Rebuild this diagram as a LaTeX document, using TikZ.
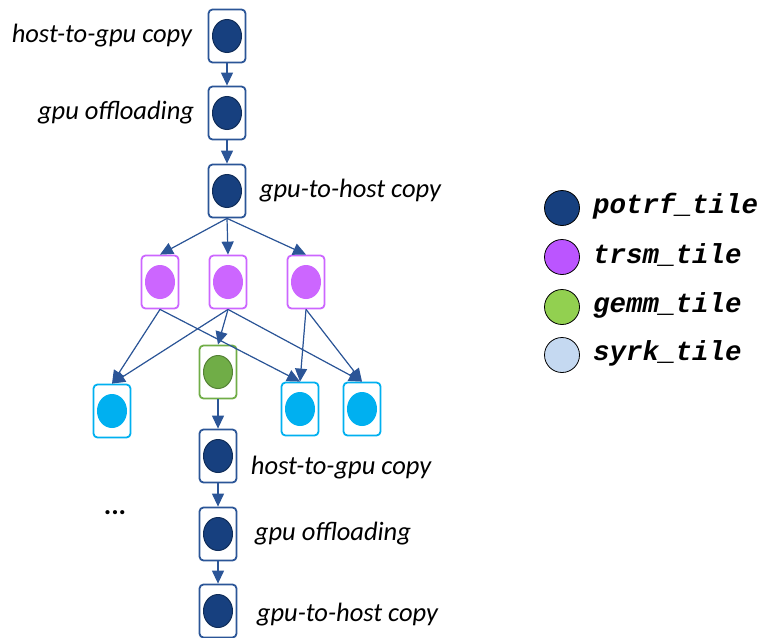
\documentclass[tikz,border=0pt]{standalone}
\usepackage{fontspec}
\setmainfont{Carlito}
\newfontfamily\codefont{Liberation Mono}
\usetikzlibrary{positioning, arrows.meta}
\definecolor{potrfblue}{HTML}{17407F}
\definecolor{edgeblue}{HTML}{2B5597}
\definecolor{trsmpurple}{HTML}{CC66FF}
\definecolor{gemmgreen}{HTML}{70AD47}
\definecolor{gemmdark}{HTML}{548235}
\definecolor{syrkcyan}{HTML}{00B0F0}
\definecolor{legpurple}{HTML}{BB55FF}
\definecolor{leggreen}{HTML}{92D050}
\definecolor{legblue}{HTML}{C5D9F1}

\begin{document}
\begin{tikzpicture}[
      x=1pt, y=-1pt,
      every node/.style={font=\fontsize{26.5}{30}\selectfont\itshape},
      tile/.style n args={3}{draw=#1, fill=white, line width=1.8pt, rounded corners=4pt,
                    minimum width=37pt, minimum height=53pt, inner sep=0pt,
                    path picture={\filldraw[fill=#2, draw=#3, line width=1pt]
                      (path picture bounding box.center) ellipse [x radius=14.5pt, y radius=16.5pt];}},
      potrf/.style={tile={edgeblue}{potrfblue}{potrfblue!70!black}},
      trsm/.style={tile={trsmpurple}{trsmpurple}{trsmpurple}},
      gemm/.style={tile={gemmgreen}{gemmgreen}{gemmdark}},
      syrk/.style={tile={syrkcyan}{syrkcyan}{syrkcyan}},
      legdot/.style={circle, draw=black, line width=0.8pt, fill=#1, minimum size=35pt, inner sep=0pt},
      legtext/.style={font=\fontsize{27.5}{30}\selectfont\codefont\bfseries\itshape, anchor=west, inner sep=0pt},
      dep/.style={-{Triangle[length=13pt, width=12pt]}, draw=edgeblue, fill=potrfblue, line width=1.2pt},
    ]
    % first potrf task and its copies
    \useasboundingbox (0,0) rectangle (767,637);
    \node[potrf] (p1) at (227,36) {};
    \node[potrf] (p2) at (227,113) {};
    \node[potrf] (p3) at (227,191) {};
    \node[left=12pt of p1] (l1) {host-to-gpu copy};
    \node[left=10pt of p2] (l2) {gpu offloading};
    \node[right=10pt of p3] (l3) {gpu-to-host copy};

    % trsm row
    \node[trsm] (t1) at (160,282) {};
    \node[trsm] (t2) at (228,282) {};
    \node[trsm] (t3) at (306,282) {};

    % gemm and syrk row
    \node[gemm] (g1) at (218,372) {};
    \node[syrk] (s1) at (112,411) {};
    \node[syrk] (s2) at (300,409) {};
    \node[syrk] (s3) at (362,409) {};

    % next potrf task
    \node[potrf] (b1) at (218,456) {};
    \node[potrf] (b2) at (218,534) {};
    \node[potrf] (b3) at (218,611) {};
    \node[right=10pt of b1, yshift=-12pt] (l4) {host-to-gpu copy};
    \node[right=14pt of b2] (l5) {gpu offloading};
    \node[right=16pt of b3, yshift=-4pt] (l6) {gpu-to-host copy};
    \node[font=\fontsize{28}{30}\selectfont\bfseries] (dots) at (115,513) {...};

    \draw[dep] (p1) -- (p2);
    \draw[dep] (p2) -- (p3);
    \draw[dep] (p3.south) -- (t1.north);
    \draw[dep] (p3.south) -- (t2.north);
    \draw[dep] (p3.south) -- (t3.north);
    \draw[dep] (t1.south) -- (s1.north);
    \draw[dep] (t1.south) -- (s2.north);
    \draw[dep] (t2.south) -- (s1.north);
    \draw[dep] (t2.south) -- (g1.north);
    \draw[dep] (t2.south) -- (s3.north);
    \draw[dep] (t3.south) -- (s2.north);
    \draw[dep] (t3.south) -- (s3.north);
    \draw[dep] (g1) -- (b1);
    \draw[dep] (b1) -- (b2);
    \draw[dep] (b2) -- (b3);

    % legend
    \node[legdot=potrfblue] (k1) at (562,208) {};
    \node[legdot=legpurple] (k2) at (562,257) {};
    \node[legdot=leggreen] (k3) at (562,307) {};
    \node[legdot=legblue] (k4) at (562,355) {};
    \node[legtext, right=13pt of k1, yshift=2pt] {potrf\_tile};
    \node[legtext, right=13pt of k2, yshift=2pt] {trsm\_tile};
    \node[legtext, right=13pt of k3, yshift=2pt] {gemm\_tile};
    \node[legtext, right=13pt of k4, yshift=2pt] {syrk\_tile};
  \end{tikzpicture}
\end{document}
